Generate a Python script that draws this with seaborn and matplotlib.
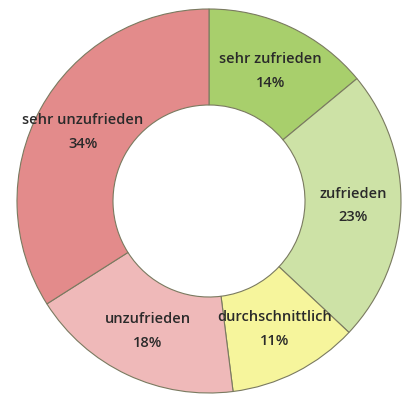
import matplotlib
matplotlib.use("Agg")
import matplotlib.pyplot as plt
import seaborn as sns

# data (clockwise from 12 o'clock)
categories = ["sehr zufrieden", "zufrieden", "durchschnittlich", "unzufrieden", "sehr unzufrieden"]
shares = [14, 23, 11, 18, 34]
colors = ["#a8cf6c", "#cde2a6", "#f6f59c", "#efb9b9", "#e38b8b"]

sns.set_theme(style="white")
plt.rcParams["font.family"] = ["Open Sans", "DejaVu Sans"]

labels = [f"{c}\n{s}%" for c, s in zip(categories, shares)]

fig = plt.figure(figsize=(4.14, 4.0), dpi=100)
ax = fig.add_axes([17 / 414, 7 / 400, 384 / 414, 384 / 400])
wedges, texts = ax.pie(
    shares,
    labels=labels,
    colors=colors,
    startangle=90,
    counterclock=False,
    labeldistance=0.75,
    radius=1.0,
    wedgeprops=dict(width=0.5, edgecolor="#7a7a60", linewidth=0.8),
    textprops=dict(fontsize=10.5, color="#2a2a2a", ha="center", va="center",
                   linespacing=1.9, fontweight="semibold"),
)
ax.set_xlim(-1, 1)
ax.set_ylim(-1, 1)
ax.set_aspect("auto")
ax.axis("off")

fig.savefig("out.png", dpi=100)
